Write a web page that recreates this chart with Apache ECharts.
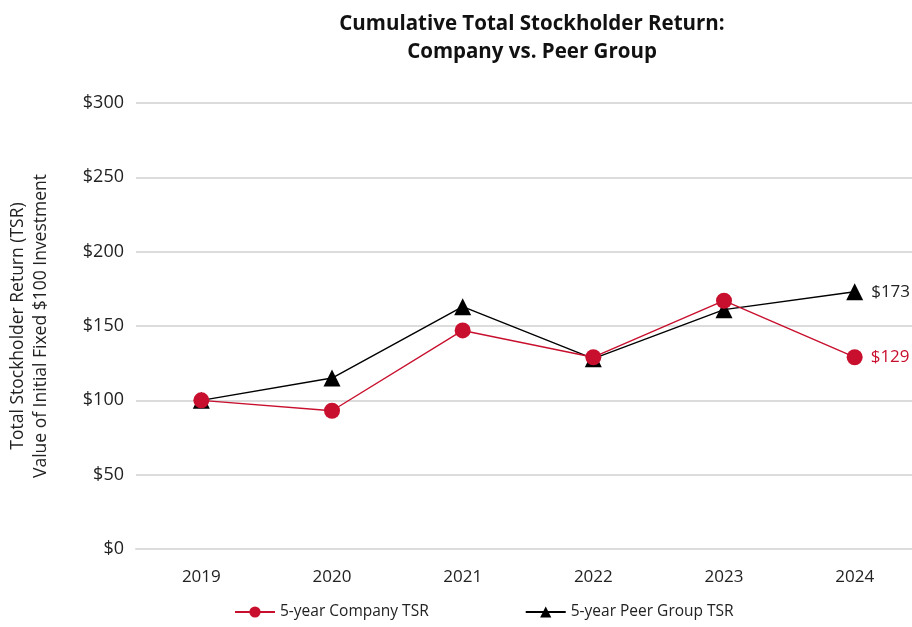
<!DOCTYPE html>
<html>
<head>
<meta charset="utf-8">
<script src="https://cdn.jsdelivr.net/npm/echarts@6/dist/echarts.min.js"></script>
<style>
html,body{margin:0;padding:0;background:#fff;}
#main{width:912px;height:627px;}
</style>
</head>
<body>
<div id="main"></div>
<script>
var years = ['2019', '2020', '2021', '2022', '2023', '2024'];
var companyTSR = [100, 93, 147, 129, 167, 129];
var peerTSR = [100, 115, 163, 128, 161, 173];
var yTicks = [0, 50, 100, 150, 200, 250, 300];

var RED = '#c8102e';
var FONT = 'Open Sans';

// label only on the last point
function lastLabel(arr, color){
    return arr.map(function(v, i){
        if (i !== arr.length - 1) return v;
        return {
            value: v,
            label: {show: true, position: 'right', distance: 8, color: color,
                fontSize: 17, fontFamily: FONT, formatter: '$' + v}
        };
    });
}

var chart = echarts.init(document.getElementById('main'));
var option = {
    backgroundColor: '#fff',
    animation: false,
    title: {
        text: 'Cumulative Total Stockholder Return:\nCompany vs. Peer Group',
        left: 527,
        top: 5,
        textAlign: 'center',
        textStyle: {fontFamily: FONT, fontSize: 20.5, fontWeight: 'bold', color: '#111', lineHeight: 28}
    },
    legend: {
        bottom: 2,
        left: 229,
        itemGap: 96,
        itemWidth: 40,
        itemHeight: 14,
        textStyle: {fontFamily: FONT, fontSize: 15.5, color: '#222'},
        data: ['5-year Company TSR', '5-year Peer Group TSR']
    },
    grid: {left: 136, right: -8, top: 103, bottom: 78, outerBoundsMode: 'none'},
    xAxis: [{
        type: 'category',
        data: years,
        boundaryGap: true,
        axisLine: {lineStyle: {color: '#dcdcdc', width: 2}},
        axisTick: {alignWithLabel: true, length: 12, lineStyle: {color: '#dcdcdc', width: 2}},
        axisLabel: {fontFamily: FONT, fontSize: 17, color: '#222', margin: 20}
    }, {
        type: 'category',
        data: years,
        position: 'bottom',
        boundaryGap: true,
        axisLine: {show: false},
        axisTick: {alignWithLabel: true, inside: true, length: 12, lineStyle: {color: '#dcdcdc', width: 2}},
        axisLabel: {show: false}
    }],
    yAxis: {
        type: 'value',
        min: yTicks[0],
        max: yTicks[yTicks.length - 1],
        interval: 50,
        name: 'Total Stockholder Return (TSR)\nValue of Initial Fixed $100 Investment',
        nameLocation: 'middle',
        nameGap: 83,
        nameTextStyle: {fontFamily: FONT, fontSize: 17.5, color: '#222', lineHeight: 23},
        axisLine: {show: false},
        axisTick: {show: false},
        splitLine: {lineStyle: {color: '#dcdcdc', width: 2}},
        axisLabel: {fontFamily: FONT, fontSize: 18, color: '#222', margin: 12,
            formatter: function(v){ return '$' + v; }}
    },
    series: [{
        name: '5-year Peer Group TSR',
        type: 'line',
        data: lastLabel(peerTSR, '#222'),
        symbol: 'triangle',
        symbolSize: 17,
        color: '#000',
        lineStyle: {color: '#000', width: 1.4},
        itemStyle: {color: '#000'},
        z: 2
    }, {
        name: '5-year Company TSR',
        type: 'line',
        data: lastLabel(companyTSR, RED),
        symbol: 'circle',
        symbolSize: 16,
        color: RED,
        lineStyle: {color: RED, width: 1.4},
        itemStyle: {color: RED},
        z: 3
    }]
};
chart.setOption(option);
</script>
</body>
</html>
